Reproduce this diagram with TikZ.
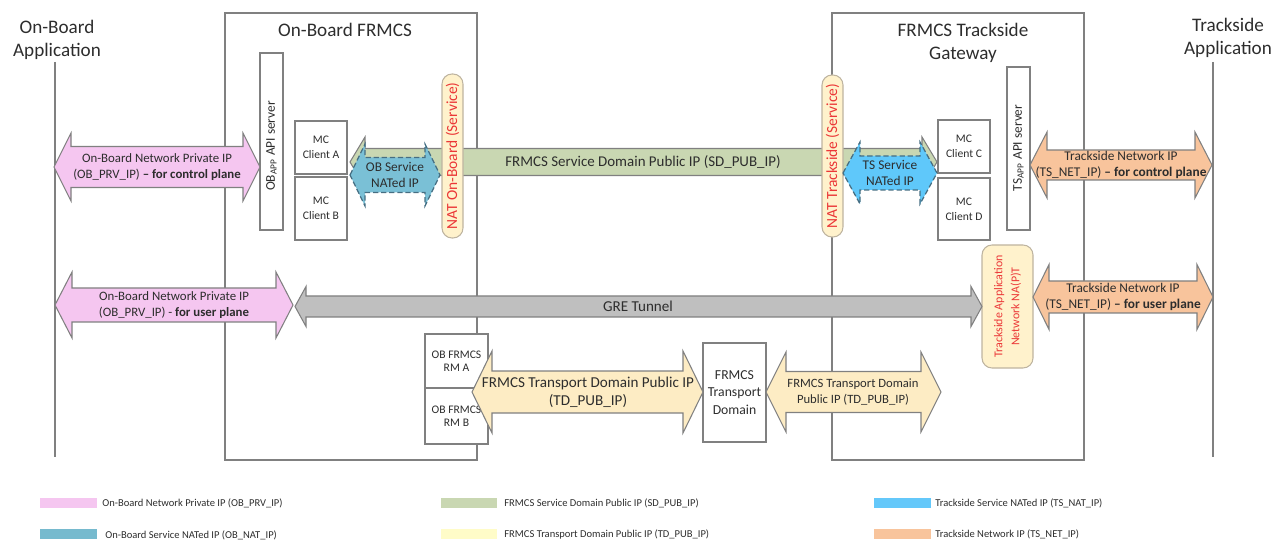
\documentclass[tikz,border=0pt]{standalone}
\usepackage{fontspec}
\setmainfont{Carlito}
\usepackage{tikz}

\definecolor{pinkip}{RGB}{245,198,240}
\definecolor{greenip}{RGB}{201,215,178}
\definecolor{obblue}{RGB}{122,192,214}
\definecolor{tsblue}{RGB}{95,200,250}
\definecolor{tdyellow}{RGB}{253,236,196}
\definecolor{orangeip}{RGB}{248,196,156}
\definecolor{gregray}{RGB}{191,191,191}
\definecolor{pillfill}{RGB}{255,242,204}
\definecolor{pilledge}{RGB}{190,180,160}
\definecolor{natred}{RGB}{235,55,55}
\definecolor{natedge}{RGB}{70,110,130}
\definecolor{linegray}{RGB}{128,128,128}
\definecolor{textgray}{RGB}{45,45,45}
\definecolor{legyellow}{RGB}{255,252,200}
\definecolor{legcyan}{RGB}{100,200,250}
\definecolor{legblue}{RGB}{118,186,206}

% style, left tip, right tip, centre, shaft half, head half, head length
\newcommand{\dblarrow}[7]{%
	\draw[#1] (#2,#4) -- ({#2+#7},{#4-#6}) -- ({#2+#7},{#4-#5}) -- ({#3-#7},{#4-#5}) -- ({#3-#7},{#4-#6}) -- (#3,#4) -- ({#3-#7},{#4+#6}) -- ({#3-#7},{#4+#5}) -- ({#2+#7},{#4+#5}) -- ({#2+#7},{#4+#6}) -- cycle;}

\begin{document}
\begin{tikzpicture}[x=0.02cm, y=-0.02cm,
	frame/.style={draw=linegray, line width=0.7pt},
	ipline/.style={draw=linegray, line width=0.6pt},
	natline/.style={draw=natedge, line width=0.7pt, dash pattern=on 3pt off 1.6pt},
	pill/.style={draw=pilledge, fill=pillfill, line width=0.6pt, rounded corners=0.2cm},
	txt/.style={align=center, inner sep=0pt, text=textgray},
	title/.style={txt, font=\fontsize{10.9}{13.4}\selectfont},
	boxtxt/.style={txt, font=\fontsize{6.6}{8.6}\selectfont},
	arrtxt/.style={txt, font=\fontsize{7.3}{8.8}\selectfont},
	natlbl/.style={align=center, inner sep=0pt, text=natred, rotate=90, font=\fontsize{8.8}{9}\selectfont},
	legtxt/.style={anchor=west, inner sep=0pt, text=textgray, font=\fontsize{6}{7}\selectfont}]
	\useasboundingbox (0,0) rectangle (1274,540);
	%application lines
	\draw[frame] (55,62) -- (55,457);
	\draw[frame] (1213,62) -- (1213,457);
	\node[title] (obapp) at (57,40) {On-Board\\Application};
	\node[title] (tsapp) at (1228,38) {Trackside\\Application};
	%outer boxes
	\draw[frame] (225,13) rectangle (477,460);
	\draw[frame] (832,13) rectangle (1084,460);
	\node[title] (obfrmcs) at (345,30) {On-Board FRMCS};
	\node[title] (tsgw) at (963,43) {FRMCS Trackside\\Gateway};
	%api servers
	\draw[frame, fill=white] (260,53) rectangle (283,230);
	\node[boxtxt, rotate=90, font=\fontsize{7.6}{9}\selectfont] (obapi) at (271.5,146) {OB\textsubscript{APP} API server};
	\draw[frame, fill=white] (1007,67) rectangle (1030,230);
	\node[boxtxt, rotate=90, font=\fontsize{7.6}{9}\selectfont] (tsapi) at (1018.5,148) {TS\textsubscript{APP} API server};
	%mc clients
	\draw[frame] (295,121) rectangle (347,174);
	\node[boxtxt] (mca) at (321,147.5) {MC\\Client A};
	\draw[frame] (295,177) rectangle (347,240);
	\node[boxtxt] (mcb) at (321,208.5) {MC\\Client B};
	\draw[frame] (938,120) rectangle (990,173);
	\node[boxtxt] (mcc) at (964,146.5) {MC\\Client C};
	\draw[frame] (938,178) rectangle (990,240);
	\node[boxtxt] (mcd) at (964,209) {MC\\Client D};
	%radio modules and transport domain
	\draw[frame, fill=white] (425,334) rectangle (488,388);
	\node[txt, font=\fontsize{6.6}{7.6}\selectfont] (rma) at (456.5,361) {OB FRMCS\\RM A};
	\draw[frame, fill=white] (425,388) rectangle (488,444);
	\node[txt, font=\fontsize{6.6}{7.6}\selectfont] (rmb) at (456.5,416) {OB FRMCS\\RM B};
	\draw[frame] (703,343) rectangle (766,442);
	\node[txt, font=\fontsize{7.8}{10}\selectfont] (td) at (734.5,392.5) {FRMCS\\Transport\\Domain};
	%service domain
	\dblarrow{ipline, fill=greenip}{350}{937}{162}{13.5}{25}{15}
	\node[txt, font=\fontsize{8.5}{9}\selectfont] (sdpub) at (643,162) {FRMCS Service Domain Public IP (SD\_PUB\_IP)};
	%nat pills
	\draw[pill] (442,74) rectangle (463,238);
	\node[natlbl] (natob) at (452.5,156) {NAT On-Board (Service)};
	\draw[pill] (822,75) rectangle (843,237);
	\node[natlbl] (natts) at (832.5,156) {NAT Trackside (Service)};
	\draw[pill] (982,245) rectangle (1033,368);
	\node[natlbl, font=\fontsize{6.8}{9.6}\selectfont] (napt) at (1007.5,306.5) {Trackside Application\\Network NA(P)T};
	%nated ip
	\dblarrow{natline, fill=obblue}{350}{440}{175}{17.5}{31}{15}
	\node[arrtxt, font=\fontsize{7.6}{9}\selectfont] (obnat) at (395,175) {OB Service\\NATed IP};
	\dblarrow{natline, fill=tsblue}{843}{937}{173}{17}{31}{17}
	\node[arrtxt, font=\fontsize{7.6}{9}\selectfont] (tsnat) at (890,173) {TS Service\\NATed IP};
	%private and trackside networks
	\dblarrow{ipline, fill=pinkip}{54}{260}{167}{20.5}{34}{17}
	\node[arrtxt] (obprvc) at (157,167) {On-Board Network Private IP\\(OB\_PRV\_IP) \textbf{-- for control plane}};
	\dblarrow{ipline, fill=pinkip}{55}{293}{305}{17}{33}{17}
	\node[arrtxt] (obprvu) at (174,305) {On-Board Network Private IP\\(OB\_PRV\_IP) - \textbf{for user plane}};
	\dblarrow{ipline, fill=orangeip}{1030}{1212}{165}{15}{33}{17}
	\node[arrtxt, font=\fontsize{7.6}{9}\selectfont] (tsnetc) at (1121,165) {Trackside Network IP\\(TS\_NET\_IP) \textbf{-- for control plane}};
	\dblarrow{ipline, fill=orangeip}{1033}{1213}{297}{16}{32.5}{16}
	\node[arrtxt, font=\fontsize{7.6}{9}\selectfont] (tsnetu) at (1123,297) {Trackside Network IP\\(TS\_NET\_IP) \textbf{-- for user plane}};
	%gre tunnel
	\dblarrow{ipline, fill=gregray}{295}{982}{306.5}{10.5}{20}{11}
	\node[txt, font=\fontsize{8.6}{9}\selectfont] (gre) at (638,306.5) {GRE Tunnel};
	%transport domain
	\dblarrow{ipline, fill=tdyellow}{472}{703}{392}{21}{41}{20}
	\node[txt, font=\fontsize{8.6}{10.4}\selectfont] (tdpub1) at (588,392) {FRMCS Transport Domain Public IP\\(TD\_PUB\_IP)};
	\dblarrow{ipline, fill=tdyellow}{766}{941}{392}{20.5}{40}{20}
	\node[arrtxt, font=\fontsize{7.2}{9}\selectfont] (tdpub2) at (853,392) {FRMCS Transport Domain\\Public IP (TD\_PUB\_IP)};
	%legend
	\fill[pinkip] (40,498) rectangle (97,508);
	\node[legtxt] (leg1) at (102,503) {On-Board Network Private IP (OB\_PRV\_IP)};
	\fill[greenip] (441,498) rectangle (497,508);
	\node[legtxt] (leg2) at (504,503) {FRMCS Service Domain Public IP (SD\_PUB\_IP)};
	\fill[legcyan] (874,498) rectangle (931,508);
	\node[legtxt] (leg3) at (935,503) {Trackside Service NATed IP (TS\_NAT\_IP)};
	\fill[legblue] (40,529) rectangle (97,539);
	\node[legtxt] (leg4) at (105,535) {On-Board Service NATed IP (OB\_NAT\_IP)};
	\fill[legyellow] (441,529) rectangle (497,539);
	\node[legtxt] (leg5) at (504,534) {FRMCS Transport Domain Public IP (TD\_PUB\_IP)};
	\fill[orangeip] (874,529) rectangle (931,539);
	\node[legtxt] (leg6) at (935,534) {Trackside Network IP (TS\_NET\_IP)};
\end{tikzpicture}
\end{document}
